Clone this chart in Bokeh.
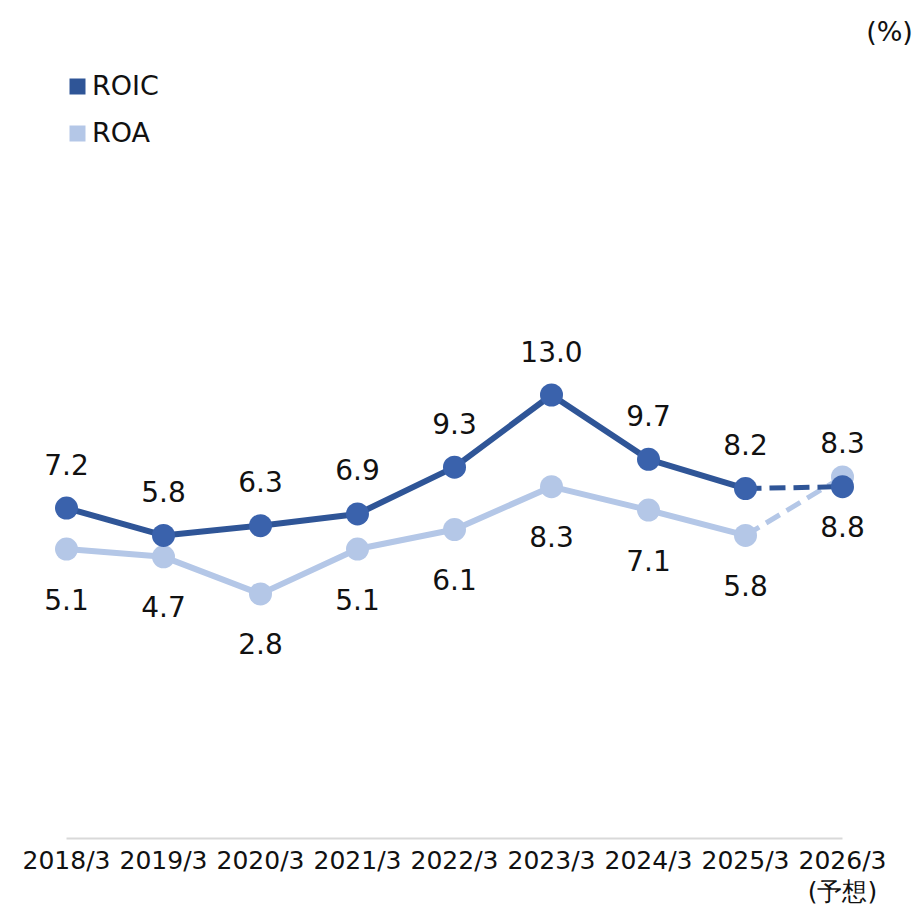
from bokeh.plotting import figure
from bokeh.models import Range1d, FixedTicker, Legend, LegendItem, Label, LinearAxis
from bokeh.core.properties import value
from bokeh.embed import file_html
from bokeh.resources import INLINE

# ---- data ----
years = ["2018/3", "2019/3", "2020/3", "2021/3", "2022/3", "2023/3", "2024/3", "2025/3", "2026/3"]
forecast_note = "(予想)"
roic = [7.2, 5.8, 6.3, 6.9, 9.3, 13.0, 9.7, 8.2, 8.3]
roa = [5.1, 4.7, 2.8, 5.1, 6.1, 8.3, 7.1, 5.8, 8.8]
series_names = ["ROIC", "ROA"]
unit_label = "(%)"
n_actual = 8  # the final point is a forecast

# ---- style ----
ROIC_LINE = "#2F5597"
ROIC_MARK = "#3A62AC"
ROA_C = "#B4C7E7"
TXT = "#111111"
FONT = "DejaVu Sans"
NAN = float("nan")

W, H = 922, 908
BOTTOM = 70
PPX = 97.0
PPY = 19.5
X0 = -66 / PPX
X1 = X0 + W / PPX
Y1 = 648 / PPY
Y0 = Y1 - (H - BOTTOM) / PPY

xs = list(range(len(years)))

p = figure(width=W, height=H, output_backend="svg", toolbar_location=None,
           x_range=Range1d(X0, X1), y_range=Range1d(Y0, Y1),
           y_axis_location=None,
           min_border_left=0, min_border_right=0, min_border_top=0, min_border_bottom=BOTTOM)
p.background_fill_color = "white"
p.border_fill_color = "white"
p.outline_line_color = None
p.grid.visible = False

# ROA (drawn first, underneath)
p.line(xs[:n_actual], roa[:n_actual], line_color=ROA_C, line_width=6)
p.line(xs[n_actual - 1:], roa[n_actual - 1:], line_color=ROA_C, line_width=5, line_dash="16 8")
p.scatter(xs, roa, size=23, fill_color=ROA_C, line_color=None)

# ROIC
p.line(xs[:n_actual], roic[:n_actual], line_color=ROIC_LINE, line_width=6)
p.line(xs[n_actual - 1:], roic[n_actual - 1:], line_color=ROIC_LINE, line_width=5, line_dash="16 8")
p.scatter(xs, roic, size=23, fill_color=ROIC_MARK, line_color=None)

# data labels
p.text(xs, roic, text=[f"{v:.1f}" for v in roic], y_offset=-44,
       text_align="center", text_baseline="middle", text_color=TXT,
       text_font=value(FONT), text_font_size=value("28px"))
p.text(xs, roa, text=[f"{v:.1f}" for v in roa], y_offset=50,
       text_align="center", text_baseline="middle", text_color=TXT,
       text_font=value(FONT), text_font_size=value("28px"))

# x axis
ax = p.xaxis[0]
ax.ticker = FixedTicker(ticks=xs)
ax.major_label_overrides = {i: lab for i, lab in enumerate(years)}
ax.bounds = (0, len(years) - 1)
ax.axis_line_color = "#D9D9D9"
ax.axis_line_width = 2
ax.major_tick_line_color = None
ax.minor_tick_line_color = None
ax.major_label_standoff = 1
ax.major_label_text_font = FONT
ax.major_label_text_font_size = "25px"
ax.major_label_text_color = TXT

# second row of the last tick label: forecast note
ax2 = LinearAxis(ticker=FixedTicker(ticks=[xs[-1]]),
                 major_label_overrides={xs[-1]: forecast_note},
                 axis_line_color=None, major_tick_line_color=None, minor_tick_line_color=None,
                 major_label_standoff=-7, major_label_text_font=FONT,
                 major_label_text_font_size="25px", major_label_text_color=TXT)
p.add_layout(ax2, "below")

# legend (swatch renderers with no visible data)
r1 = p.quad(left=[NAN], right=[NAN], top=[NAN], bottom=[NAN], fill_color=ROIC_LINE, line_color=None)
r2 = p.quad(left=[NAN], right=[NAN], top=[NAN], bottom=[NAN], fill_color=ROA_C, line_color=None)
legend = Legend(items=[LegendItem(label=series_names[0], renderers=[r1]),
                       LegendItem(label=series_names[1], renderers=[r2])],
                location=(67, 690), orientation="vertical",
                glyph_width=20, glyph_height=20, label_standoff=5, spacing=16,
                padding=0, margin=0, border_line_color=None, background_fill_alpha=0,
                label_text_font=FONT, label_text_font_size="27px", label_text_color=TXT)
p.add_layout(legend)

# unit label
p.add_layout(Label(x=X0 + 889 / PPX, y=Y1 - 31 / PPY, text=unit_label,
                   text_align="center", text_baseline="middle", text_color=TXT,
                   text_font=FONT, text_font_size="27px"))

open("out.html", "w").write(file_html(p, INLINE))
